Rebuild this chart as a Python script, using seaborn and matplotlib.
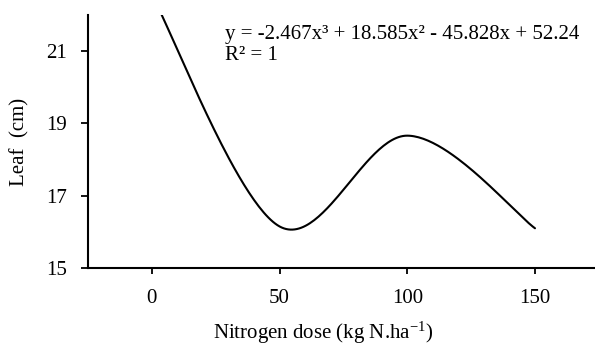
import numpy as np
import pandas as pd
import matplotlib
matplotlib.use("Agg")
import matplotlib.pyplot as plt
import seaborn as sns

# Data
doses = [0, 50, 100, 150]
leaf = [22.55, 16.15, 18.66, 16.10]
x_ticks = [0, 50, 100, 150]
y_ticks = [15, 17, 19, 21]
equation = "y = -2.467x³ + 18.585x² - 45.828x + 52.24"
r2_text = "R² = 1"

sns.set_theme(style="white")
plt.rcParams["font.family"] = ["Liberation Serif", "DejaVu Serif"]
plt.rcParams["mathtext.fontset"] = "custom"
plt.rcParams["mathtext.rm"] = "Liberation Serif"
plt.rcParams["mathtext.it"] = "Liberation Serif:italic"


def smooth_line(xs, ys, n=60):
    """Excel-style smoothed line (Bezier segments through the points)."""
    P = np.column_stack([xs, ys]).astype(float)
    k = len(P)
    out = []
    for i in range(k - 1):
        p_prev = P[i - 1] if i > 0 else P[i]
        p_next2 = P[i + 2] if i + 2 < k else P[i + 1]
        c1 = P[i] + (P[i + 1] - p_prev) / 6.0
        c2 = P[i + 1] - (p_next2 - P[i]) / 6.0
        t = np.linspace(0, 1, n)[:, None]
        seg = ((1 - t) ** 3) * P[i] + 3 * ((1 - t) ** 2) * t * c1 \
            + 3 * (1 - t) * t ** 2 * c2 + t ** 3 * P[i + 1]
        out.append(seg if i == 0 else seg[1:])
    return np.vstack(out)


curve = smooth_line(doses, leaf)
df = pd.DataFrame({"dose": curve[:, 0], "leaf": curve[:, 1]})

FS = 15
fig = plt.figure(figsize=(5.95, 3.45), dpi=100)
ax = fig.add_axes([0.148, 0.223, 0.852, 0.734])

sns.lineplot(data=df, x="dose", y="leaf", sort=False, color="black",
             linewidth=1.5, ax=ax)

ax.set_xlim(-25, 173.5)
ax.set_ylim(15, 22)
ax.set_xticks(x_ticks)
ax.set_yticks(y_ticks)
ax.tick_params(axis="both", labelsize=FS, colors="black", direction="out",
               length=5, width=1.3, left=True, bottom=True)
ax.tick_params(axis="x", length=4, pad=11)
ax.tick_params(axis="y", pad=10)
for s in ["top", "right"]:
    ax.spines[s].set_visible(False)
for s in ["left", "bottom"]:
    ax.spines[s].set_color("black")
    ax.spines[s].set_linewidth(1.5)

ax.set_xlabel("Nitrogen dose (kg N.ha$^{-1}$)", fontsize=FS, color="black")
ax.xaxis.set_label_coords((323 - 88) / 507, -0.255)
ax.xaxis.label.set_va("center")
ax.set_ylabel("Leaf  (cm)", fontsize=FS, color="black", labelpad=12)

fig.text(225 / 595, 1 - 34 / 345, equation, fontsize=FS, color="black",
         ha="left", va="center")
fig.text(225 / 595, 1 - 55 / 345, r2_text, fontsize=FS, color="black",
         ha="left", va="center")

fig.savefig("out.png", dpi=100)
